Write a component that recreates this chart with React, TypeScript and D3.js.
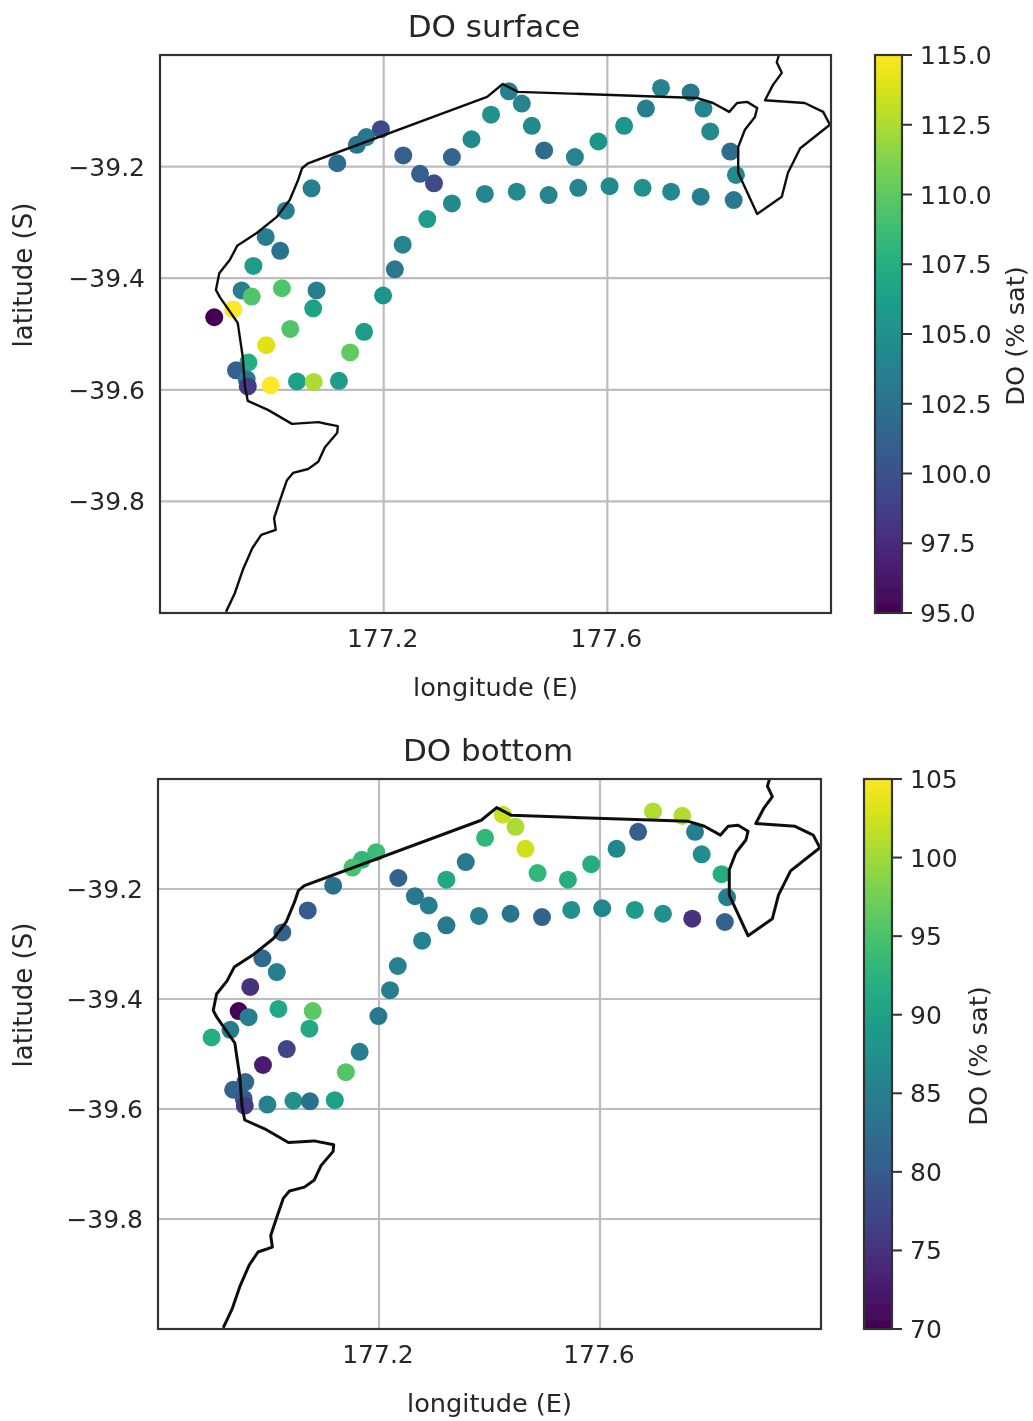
import React from "react";
import * as d3 from "d3";

const stationLon = [176.897,176.931,176.946,176.964,177.018,177.080,177.074,177.033,176.990,176.958,176.936,176.955,176.957,176.998,177.045,177.075,177.120,177.140,177.165,177.199,177.220,177.234,177.278,177.322,177.381,177.438,177.495,177.548,177.604,177.663,177.714,177.767,177.826,177.830,177.820,177.784,177.772,177.749,177.696,177.669,177.630,177.584,177.542,177.487,177.465,177.447,177.424,177.392,177.357,177.322,177.290,177.265,177.235,177.195,177.169,177.152,177.117,177.071,177.025,176.989,177.015,176.967];
const stationLat = [-39.470,-39.456,-39.422,-39.433,-39.418,-39.422,-39.454,-39.491,-39.520,-39.551,-39.565,-39.581,-39.594,-39.592,-39.585,-39.586,-39.584,-39.533,-39.496,-39.431,-39.384,-39.340,-39.294,-39.266,-39.249,-39.245,-39.251,-39.238,-39.235,-39.238,-39.245,-39.254,-39.260,-39.215,-39.173,-39.137,-39.096,-39.067,-39.059,-39.096,-39.127,-39.155,-39.183,-39.171,-39.127,-39.087,-39.065,-39.107,-39.151,-39.183,-39.230,-39.213,-39.180,-39.133,-39.147,-39.161,-39.194,-39.239,-39.279,-39.326,-39.351,-39.378];
const surfaceDO = [95,115,103.5,109.5,109.5,103.5,106.5,109.5,114,107.5,101,103,98.5,115,106.5,112.5,106,110,106,105.5,103,104,106,104.5,104,104.5,104,104,104.5,105,104.5,103.5,103,104.5,102,104.5,104,103,104,103.5,105.5,105.5,104,102,104.5,104,103.5,105,104.5,101.5,99.5,101,101,99.5,103,102.5,102,103.5,103.5,103.5,102.5,106];
const bottomDO = [92,84.5,70.5,85,91,96,91,77,73,81.5,81,80,76,85.5,87.5,83,90,95.5,85,84,85,85.5,85.5,84,85,83.5,81,87.5,86,89,87.5,75,81,85,92,87,85,101,101,80.5,86,92,92,93,102.5,100.5,102,93,84,91,85,84,81,94,93,95,83,80,81,82,85,75];

const coastLon = [176.918,176.934,176.948,176.965,176.981,177.007,177.004,177.015,177.027,177.038,177.065,177.083,177.095,177.117,177.118,177.083,177.036,176.993,176.957,176.952,176.948,176.939,176.907,176.900,176.906,176.925,176.938,176.973,177.009,177.032,177.047,177.054,177.065,177.385,177.413,177.440,177.760,177.789,177.818,177.832,177.850,177.868,177.864,177.846,177.834,177.834,177.868,177.912,177.923,177.945,177.998,177.986,177.953,177.882,177.896,177.912,177.903,177.907];
const coastLat = [-39.998,-39.964,-39.923,-39.884,-39.860,-39.851,-39.830,-39.797,-39.762,-39.749,-39.742,-39.729,-39.703,-39.677,-39.665,-39.658,-39.661,-39.636,-39.620,-39.595,-39.541,-39.480,-39.434,-39.421,-39.391,-39.367,-39.342,-39.319,-39.290,-39.260,-39.224,-39.203,-39.194,-39.075,-39.052,-39.066,-39.077,-39.086,-39.102,-39.086,-39.084,-39.095,-39.111,-39.134,-39.165,-39.211,-39.285,-39.254,-39.211,-39.167,-39.125,-39.102,-39.086,-39.081,-39.054,-39.032,-39.013,-39.000];

const lonTicks = [177.2, 177.6];
const latTicks = [-39.2, -39.4, -39.6, -39.8];
const surfaceTicks = [95, 97.5, 100, 102.5, 105, 107.5, 110, 112.5, 115];
const bottomTicks = [70, 75, 80, 85, 90, 95, 100, 105];

const FONT = "'DejaVu Sans', sans-serif";
const INK = "#262626";

type PanelProps = {
  id: string; title: string; values: number[]; ticks: number[]; fmt: (v: number) => string;
  left: number; right: number; top: number; bottom: number;
  cbLeft: number; cbRight: number; cbLabelX: number; yLabelX: number; coastWidth: number;
};

function Panel(p: PanelProps) {
  const x = d3.scaleLinear().domain([176.8, 178]).range([p.left, p.right]);
  const y = d3.scaleLinear().domain([-39, -40]).range([p.top, p.bottom]);
  const dom = d3.extent(p.ticks) as [number, number];
  const c = d3.scaleSequential(d3.interpolateViridis).domain(dom);
  const cy = d3.scaleLinear().domain(dom).range([p.bottom, p.top]);
  const line = d3.line<number>()
    .x((d) => x(coastLon[d]))
    .y((d) => y(coastLat[d]));
  const stops = d3.range(0, 1.0001, 0.05);
  const midX = (p.left + p.right) / 2;
  const midY = (p.top + p.bottom) / 2;
  return (
    <g fontFamily={FONT} fill={INK}>
      <defs>
        <linearGradient id={p.id} x1="0" y1="1" x2="0" y2="0">
          {stops.map((s) => <stop key={s} offset={s} stopColor={d3.interpolateViridis(s)} />)}
        </linearGradient>
        <clipPath id={p.id + "clip"}>
          <rect x={p.left} y={p.top} width={p.right - p.left} height={p.bottom - p.top} />
        </clipPath>
      </defs>
      <text x={midX - 1.5} y={p.top - 18} textAnchor="middle" fontSize={31}>{p.title}</text>
      {lonTicks.map((t) => (
        <line key={t} x1={x(t)} x2={x(t)} y1={p.top} y2={p.bottom} stroke="#bdbdbd" strokeWidth={2.2} />
      ))}
      {latTicks.map((t) => (
        <line key={t} x1={p.left} x2={p.right} y1={y(t)} y2={y(t)} stroke="#bdbdbd" strokeWidth={2.2} />
      ))}
      {p.values.map((v, i) => (
        <circle key={i} cx={x(stationLon[i])} cy={y(stationLat[i])} r={9} fill={c(v)} />
      ))}
      <path d={line(d3.range(coastLon.length)) as string} fill="none" stroke="#111" strokeWidth={p.coastWidth}
        strokeLinejoin="round" clipPath={`url(#${p.id}clip)`} />
      <rect x={p.left} y={p.top} width={p.right - p.left} height={p.bottom - p.top} fill="none" stroke="#333" strokeWidth={2.2} />
      {lonTicks.map((t) => (
        <text key={t} x={x(t) - 1} y={p.bottom + 34} textAnchor="middle" fontSize={25}>{t.toFixed(1)}</text>
      ))}
      {latTicks.map((t) => (
        <text key={t} x={p.left - 15} y={y(t) + 9} textAnchor="end" fontSize={25}>{"\u2212" + Math.abs(t).toFixed(1)}</text>
      ))}
      <text x={midX} y={p.bottom + 83} textAnchor="middle" fontSize={25.6}>longitude (E)</text>
      <text transform={`translate(${p.yLabelX},${midY - 59}) rotate(-90)`} textAnchor="middle" fontSize={26}>latitude (S)</text>
      <rect x={p.cbLeft} y={p.top} width={p.cbRight - p.cbLeft} height={p.bottom - p.top} fill={`url(#${p.id})`} stroke="#333" strokeWidth={2.2} />
      {p.ticks.map((t) => (
        <g key={t}>
          <line x1={p.cbRight} x2={p.cbRight + 10} y1={cy(t)} y2={cy(t)} stroke="#333" strokeWidth={2} />
          <text x={p.cbRight + 18} y={cy(t) + 9} fontSize={25}>{p.fmt(t)}</text>
        </g>
      ))}
      <text transform={`translate(${p.cbLabelX},${midY + 2}) rotate(-90)`} textAnchor="middle" fontSize={25.6}>DO (% sat)</text>
    </g>
  );
}

export default function App() {
  return (
    <svg width={1033} height={1421} style={{ position: "absolute", left: 0, top: 0, background: "#fff" }}>
      <defs>
        <filter id="soft" filterUnits="userSpaceOnUse" x={0} y={0} width={1033} height={1421}>
          <feGaussianBlur stdDeviation={0.55} />
        </filter>
      </defs>
      <g filter="url(#soft)">
        <Panel id="surf" title="DO surface" values={surfaceDO} ticks={surfaceTicks} fmt={(v) => v.toFixed(1)}
          left={160} right={831} top={55} bottom={613} cbLeft={875} cbRight={902} cbLabelX={1024} yLabelX={32} coastWidth={2.4} />
        <Panel id="bott" title="DO bottom" values={bottomDO} ticks={bottomTicks} fmt={(v) => String(v)}
          left={158} right={821} top={779} bottom={1329} cbLeft={864} cbRight={892} cbLabelX={987} yLabelX={32} coastWidth={3} />
      </g>
    </svg>
  );
}
